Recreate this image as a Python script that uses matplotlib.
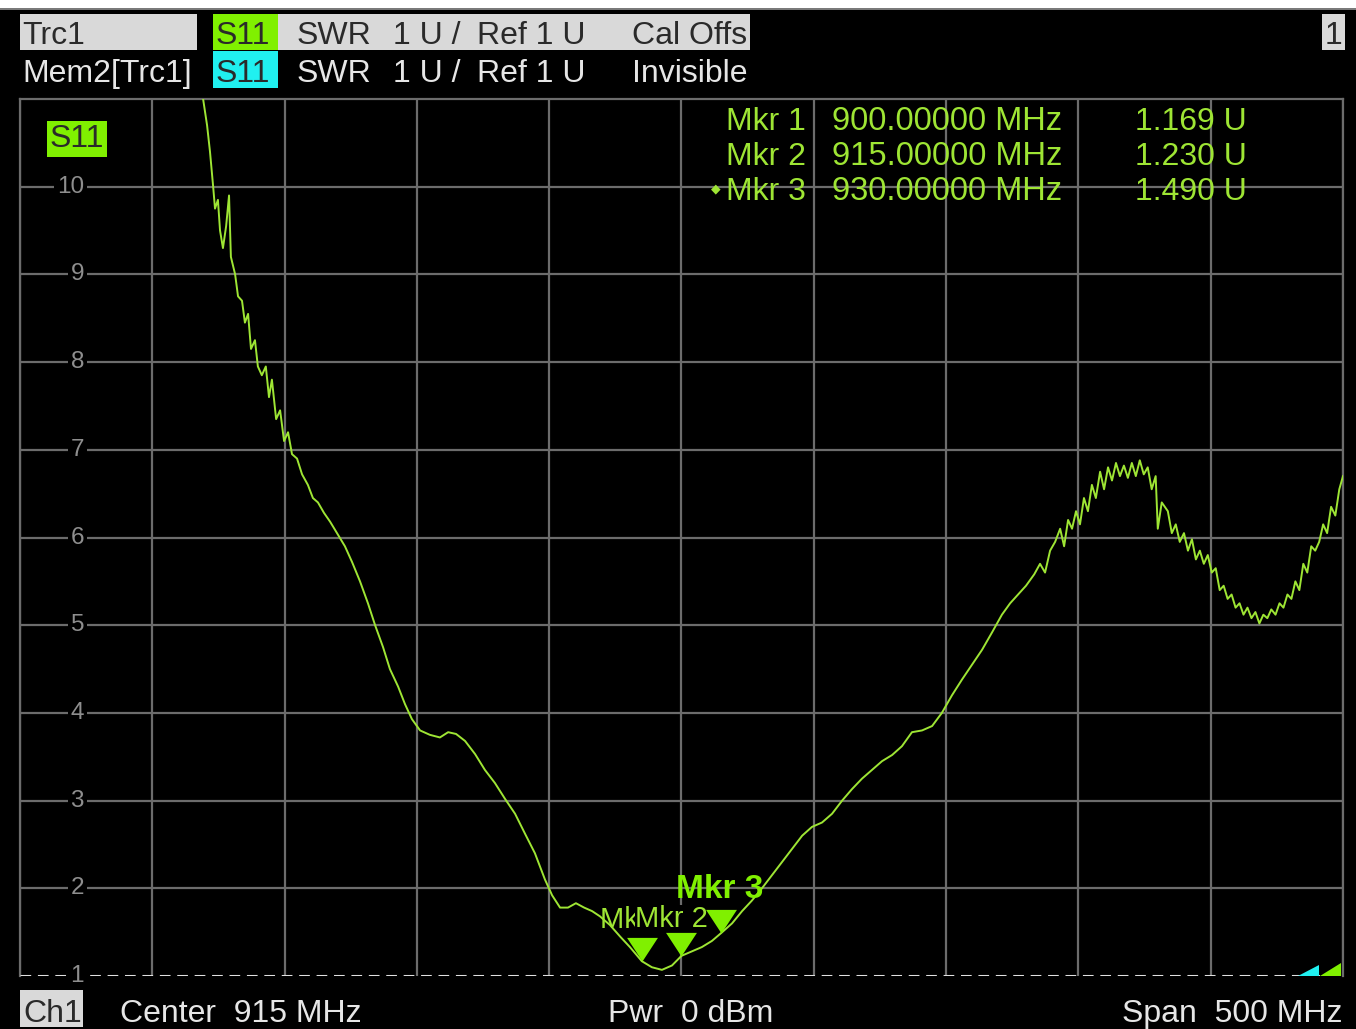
#! python3

# VNA SCREEN - S11 SWR TRACE

import numpy as np
import matplotlib.pyplot as plt
import matplotlib.transforms as mtransforms
from matplotlib.patches import Rectangle, Polygon

plt.rcParams['font.family'] = ['Liberation Sans', 'DejaVu Sans']

W, H = 1356, 1029

# Trace data (MHz, SWR in U)
freq_mhz = [728.0, 732.0, 734.2, 735.7, 736.8, 738.0, 738.7, 739.8, 740.6, 741.7,
	742.9, 744.0, 744.7, 746.3, 747.4, 748.9, 750.0, 751.2, 752.3, 753.8,
	754.9, 756.4, 757.9, 759.1, 760.2, 761.8, 763.3, 764.8, 766.3, 767.8,
	769.7, 771.6, 773.8, 775.7, 777.6, 779.9, 782.2, 784.8, 787.8, 790.5,
	793.5, 796.5, 799.2, 802.2, 804.8, 807.9, 810.5, 813.1, 816.2, 819.9,
	823.7, 826.8, 829.8, 833.2, 837.0, 840.7, 844.5, 848.3, 852.1, 855.9,
	859.6, 863.4, 866.1, 869.1, 872.1, 875.1, 878.2, 881.2, 884.2, 888.0,
	891.8, 895.5, 900.0, 903.8, 907.6, 911.4, 915.0, 918.9, 922.7, 926.5,
	930.0, 934.1, 937.9, 941.6, 945.4, 949.2, 953.0, 956.8, 960.6, 964.3,
	968.1, 971.9, 975.7, 979.4, 983.2, 987.0, 990.8, 994.6, 998.3, 1002.1,
	1005.9, 1009.7, 1013.4, 1017.2, 1021.0, 1024.8, 1028.6, 1032.4, 1036.1, 1039.2,
	1042.2, 1045.2, 1048.3, 1050.5, 1052.4, 1054.3, 1056.2, 1058.1, 1059.6, 1061.1,
	1062.6, 1064.1, 1065.6, 1067.1, 1068.6, 1070.1, 1071.6, 1073.2, 1074.7, 1076.2,
	1077.7, 1079.2, 1080.7, 1082.2, 1083.7, 1085.2, 1086.7, 1088.2, 1089.7, 1091.2,
	1092.7, 1094.2, 1095.0, 1096.5, 1098.8, 1100.3, 1101.8, 1103.3, 1104.9, 1106.4,
	1107.9, 1109.4, 1110.9, 1112.4, 1113.9, 1115.4, 1116.9, 1118.4, 1119.9, 1121.4,
	1122.9, 1124.4, 1125.9, 1127.4, 1128.9, 1130.4, 1131.9, 1133.4, 1134.9, 1136.4,
	1137.9, 1139.5, 1141.0, 1142.5, 1144.0, 1145.5, 1147.0, 1148.5, 1150.0, 1151.5,
	1153.0, 1154.5, 1156.0, 1157.5, 1159.0, 1160.5, 1162.1, 1163.6, 1165.0]
swr = [12.2, 11.5, 11.0, 10.7, 10.4, 10.0, 9.75, 9.85, 9.5, 9.3,
	9.55, 9.9, 9.2, 9.0, 8.75, 8.7, 8.45, 8.55, 8.15, 8.25,
	7.95, 7.85, 7.95, 7.6, 7.8, 7.35, 7.45, 7.1, 7.2, 6.95,
	6.9, 6.72, 6.6, 6.45, 6.4, 6.28, 6.18, 6.05, 5.9, 5.72,
	5.5, 5.25, 5.0, 4.75, 4.5, 4.3, 4.1, 3.93, 3.8, 3.75,
	3.72, 3.78, 3.76, 3.68, 3.53, 3.35, 3.2, 3.02, 2.85, 2.62,
	2.4, 2.1, 1.92, 1.78, 1.78, 1.83, 1.78, 1.74, 1.68, 1.58,
	1.45, 1.33, 1.169, 1.1, 1.07, 1.12, 1.23, 1.28, 1.33, 1.40,
	1.49, 1.6, 1.74, 1.86, 2.0, 2.15, 2.3, 2.45, 2.6, 2.7,
	2.75, 2.85, 3.0, 3.13, 3.25, 3.35, 3.45, 3.52, 3.62, 3.78,
	3.8, 3.85, 4.0, 4.2, 4.38, 4.55, 4.72, 4.92, 5.12, 5.25,
	5.35, 5.45, 5.58, 5.7, 5.6, 5.85, 5.95, 6.1, 5.9, 6.2,
	6.1, 6.3, 6.15, 6.45, 6.3, 6.6, 6.45, 6.75, 6.55, 6.8,
	6.65, 6.85, 6.7, 6.82, 6.68, 6.85, 6.7, 6.88, 6.72, 6.8,
	6.55, 6.7, 6.1, 6.4, 6.3, 6.05, 6.15, 5.95, 6.05, 5.85,
	5.98, 5.75, 5.85, 5.7, 5.8, 5.6, 5.65, 5.4, 5.45, 5.3,
	5.35, 5.2, 5.25, 5.12, 5.2, 5.08, 5.15, 5.02, 5.12, 5.08,
	5.18, 5.12, 5.25, 5.2, 5.35, 5.3, 5.5, 5.4, 5.7, 5.6,
	5.9, 5.85, 5.95, 6.15, 6.05, 6.35, 6.25, 6.55, 6.7]

# Markers
mkr_names = ['Mkr 1', 'Mkr 2', 'Mkr 3']
mkr_freq = [900.0, 915.0, 930.0]
mkr_swr = [1.169, 1.230, 1.490]

# Sweep / scale settings
center_mhz = 915
span_mhz = 500
ref_u = 1
div_u = 1
y_labels = [2, 3, 4, 5, 6, 7, 8, 9, 10]

TRACE = '#9ee534'
GREEN = '#80f000'
CYAN = '#20f0f0'
GRID = '#6c6c6c'
LIGHT = '#d9d9d9'
TXT = '#e6e6e6'
DARK = '#2a2a2a'


def fx(x):
	return x / W


def fy(y):
	return 1 - y / H


def box(fig, x0, y0, x1, y1, color):
	fig.add_artist(Rectangle((fx(x0), fy(y1)), (x1 - x0) / W, (y1 - y0) / H,
		transform=fig.transFigure, facecolor=color, edgecolor='none', zorder=1))


def label(fig, x, y, s, color=TXT, size=23, ha='left', **kw):
	fig.text(fx(x), fy(y), s, color=color, fontsize=size, ha=ha, va='baseline', **kw)


fig = plt.figure(figsize=(W / 100, H / 100), dpi=100, facecolor='black')

# white strip + frame line on top
box(fig, 0, 0, W, 8, 'white')
box(fig, 0, 8, W, 10, '#7a7a7a')

# Header rows
box(fig, 20, 14, 197, 50, LIGHT)
box(fig, 213, 14, 278, 50, GREEN)
box(fig, 278, 14, 750, 50, LIGHT)
box(fig, 213, 51, 278, 88, CYAN)
box(fig, 1322, 14, 1345, 50, LIGHT)
label(fig, 22, 44, 'Trc1', color=DARK)
label(fig, 216, 44, 'S11', color=DARK)
label(fig, 297, 44, 'SWR', color=DARK)
label(fig, 393, 44, '1 U /', color=DARK)
label(fig, 477, 44, 'Ref %d U' % ref_u, color=DARK)
label(fig, 632, 44, 'Cal Offs', color=DARK)
label(fig, 1333.5, 44, '1', color=DARK, ha='center')
label(fig, 22, 82, 'Mem2[Trc1]')
label(fig, 216, 82, 'S11', color=DARK)
label(fig, 297, 82, 'SWR')
label(fig, 393, 82, '1 U /')
label(fig, 477, 82, 'Ref %d U' % ref_u)
label(fig, 632, 82, 'Invisible')

# Footer
box(fig, 20, 990, 83, 1027, LIGHT)
label(fig, 23, 1022, 'Ch1', color=DARK)
label(fig, 120, 1022, 'Center  %d MHz' % center_mhz)
label(fig, 608, 1022, 'Pwr  0 dBm')
label(fig, 1343, 1022, 'Span  %d MHz' % span_mhz, ha='right')

# Diagram area
ax = fig.add_axes([fx(20), fy(976), (1343 - 20) / W, (976 - 99) / H])
ax.set_facecolor('black')
f0 = center_mhz - span_mhz / 2
f1 = center_mhz + span_mhz / 2
ax.set_xlim(f0, f1)
ax.set_ylim(ref_u, ref_u + 10 * div_u)
ax.set_xticks(np.arange(f0, f1 + 1, span_mhz / 10))
ax.set_yticks(y_labels)
ax.tick_params(length=0, labelbottom=False, labelleft=False)
ax.grid(True, color=GRID, linewidth=1.6, zorder=0)
for k, v in ax.spines.items():
	v.set_color(GRID)
	v.set_linewidth(1.6)
ax.spines['bottom'].set_visible(False)

# reference line
ax.axhline(ref_u, color='#e0e0e0', linewidth=2.2, linestyle=(0, (3.5, 2.2)), zorder=3)

# scale labels, boxed in black so the grid line breaks around them
ylab_tr = mtransforms.blended_transform_factory(ax.transAxes, ax.transData)
for v in y_labels + [ref_u]:
	ax.text((84 - 20) / 1323, v, str(v), transform=ylab_tr, ha='right', va='center',
		color='#8e8e8e', fontsize=17.5, zorder=4, clip_on=False,
		bbox=dict(facecolor='black', edgecolor='none', pad=2))

# S11 tag
ax.text((50 - 20) / 1323, 1 - (147 - 99) / 877, 'S11', transform=ax.transAxes,
	ha='left', va='baseline', color=DARK, fontsize=23, zorder=5,
	bbox=dict(facecolor=GREEN, edgecolor='none', boxstyle='square,pad=0.08'))

# trace
ax.plot(freq_mhz, swr, color=TRACE, linewidth=1.4, zorder=5)

# range indicators at bottom right
ind_tr = mtransforms.blended_transform_factory(ax.transAxes, ax.transData)
ax.add_patch(Polygon([(0.9826, ref_u), (0.9985, ref_u), (0.9985, ref_u + 0.15)],
	closed=True, transform=ind_tr, facecolor=GREEN, edgecolor='none', zorder=6, clip_on=False))
ax.add_patch(Polygon([(0.966, ref_u), (0.9818, ref_u), (0.9818, ref_u + 0.13)],
	closed=True, transform=ind_tr, facecolor=CYAN, edgecolor='none', zorder=6, clip_on=False))

# marker labels near the trace (Mkr 2 drawn over Mkr 1, as on the screen)
lab_off = [(-42, 33), (-46, 29)]
for i in range(2):
	ax.annotate(mkr_names[i], (mkr_freq[i], mkr_swr[i]), xytext=lab_off[i],
		textcoords='offset pixels', ha='left', va='baseline', color=TRACE,
		fontsize=21, zorder=7,
		bbox=dict(facecolor='black', edgecolor='none', pad=0) if i == 1 else None)
ax.annotate(mkr_names[2], (mkr_freq[2], mkr_swr[2]), xytext=(-45, 35),
	textcoords='offset pixels', ha='left', va='baseline', color=GREEN,
	fontsize=24, fontweight='bold', zorder=7)

# marker triangles, tip on the trace
tri = [(-1, 1.53), (1, 1.53), (0, 0)]
ax.plot(mkr_freq, mkr_swr, linestyle='none', marker=tri, markersize=34,
	color=GREEN, markeredgewidth=0, zorder=8)

# marker table
for i in range(3):
	yb = 130 + 35 * i
	label(fig, 806, yb, mkr_names[i], color=TRACE, ha='right', zorder=9)
	label(fig, 832, yb, '%.5f MHz' % mkr_freq[i], color=TRACE, size=23.5, zorder=9)
	label(fig, 1247, yb, '%.3f U' % mkr_swr[i], color=TRACE, ha='right', zorder=9)
fig.text(fx(716), fy(189), '\u25c6', color=TRACE, fontsize=9, ha='center', va='center',
	family='DejaVu Sans', zorder=9)

fig.savefig('out.png', dpi=100, facecolor='black')
